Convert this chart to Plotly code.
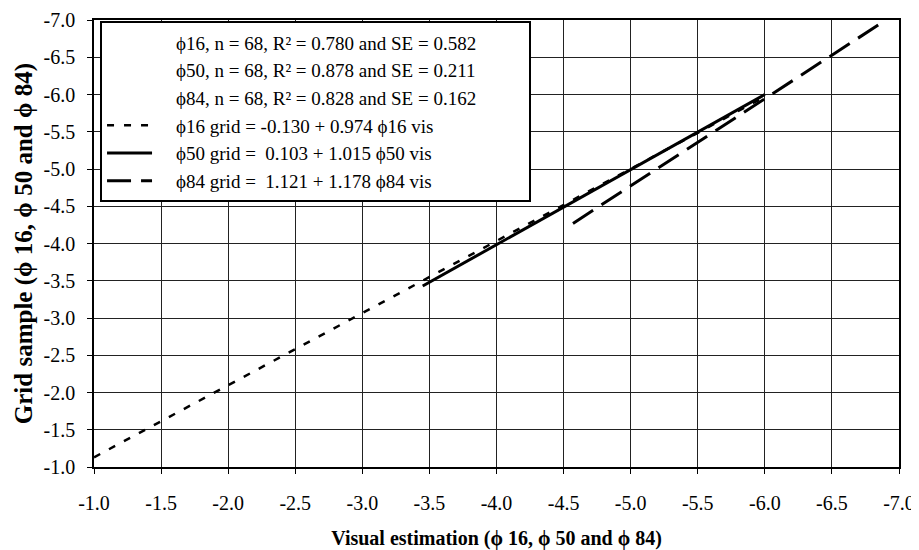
import plotly.graph_objects as go

# ---- data ----
stats_rows = [
    "ϕ16, n = 68, R² = 0.780 and SE = 0.582",
    "ϕ50, n = 68, R² = 0.878 and SE = 0.211",
    "ϕ84, n = 68, R² = 0.828 and SE = 0.162",
]
phi16_name = "ϕ16 grid = -0.130 + 0.974 ϕ16 vis"
phi50_name = "ϕ50 grid =  0.103 + 1.015 ϕ50 vis"
phi84_name = "ϕ84 grid =  1.121 + 1.178 ϕ84 vis"

phi16_x = [-1.0, -6.0]
phi16_y = [-1.13, -5.97]
phi50_x = [-3.45, -6.0]
phi50_y = [-3.43, -6.0]
phi84_x = [-4.57, -6.86]
phi84_y = [-4.27, -6.95]

tick_vals = [-1.0, -1.5, -2.0, -2.5, -3.0, -3.5, -4.0, -4.5, -5.0, -5.5, -6.0, -6.5, -7.0]
tick_text = ["-1.0", "-1.5", "-2.0", "-2.5", "-3.0", "-3.5", "-4.0", "-4.5", "-5.0", "-5.5", "-6.0", "-6.5", "-7.0"]

x_title = "<b>Visual estimation (ϕ 16, ϕ 50 and ϕ 84)</b>"
y_title = "<b>Grid sample (ϕ 16, ϕ 50 and ϕ 84)</b>"

SERIF = "Liberation Serif, Times New Roman, serif"
PAD = "\u00a0" * 4    # indent of legend texts past the line samples
TAIL = "\u00a0" * 10  # empty room at the right of the legend box

fig = go.Figure()

for row in stats_rows:
    fig.add_trace(go.Scatter(x=[None], y=[None], mode="lines", name=PAD + row + TAIL,
                             line=dict(color="rgba(0,0,0,0)", width=1),
                             hoverinfo="skip"))

fig.add_trace(go.Scatter(x=phi16_x, y=phi16_y, mode="lines", name=PAD + phi16_name,
                         line=dict(color="black", width=2.5, dash="7px,10px")))
fig.add_trace(go.Scatter(x=phi50_x, y=phi50_y, mode="lines", name=PAD + phi50_name,
                         line=dict(color="black", width=3)))
fig.add_trace(go.Scatter(x=phi84_x, y=phi84_y, mode="lines", name=PAD + phi84_name,
                         line=dict(color="black", width=3, dash="24px,10px")))

axis_common = dict(
    tickmode="array", tickvals=tick_vals, ticktext=tick_text,
    showgrid=True, gridcolor="#222", gridwidth=1,
    showline=True, linecolor="black", linewidth=1.5, mirror=True,
    zeroline=False, automargin=False, ticklabeloverflow="allow",
    ticks="outside", ticklen=5, tickcolor="black",
    tickfont=dict(family=SERIF, size=20, color="black"),
)

fig.update_xaxes(range=[-1, -7], title=dict(text=x_title, standoff=18,
                 font=dict(family=SERIF, size=20, color="black")),
                 ticklabelstandoff=12, **axis_common)
fig.update_yaxes(range=[-1, -7], title=dict(text=y_title, standoff=4,
                 font=dict(family=SERIF, size=25, color="black")),
                 ticklabelstandoff=8, **axis_common)

# The page body adds an 8px offset, so the figure is 8px smaller than the window.
fig.update_layout(
    width=911, height=542,
    margin=dict(l=86, r=20, t=12, b=83),
    paper_bgcolor="white", plot_bgcolor="white",
    showlegend=True,
    legend=dict(x=0.0075, y=0.997, xanchor="left", yanchor="top",
                bgcolor="white", bordercolor="black", borderwidth=2,
                font=dict(family=SERIF, size=19, color="black"),
                itemwidth=45, tracegroupgap=0, traceorder="normal"),
)

fig.write_html("out.html")
